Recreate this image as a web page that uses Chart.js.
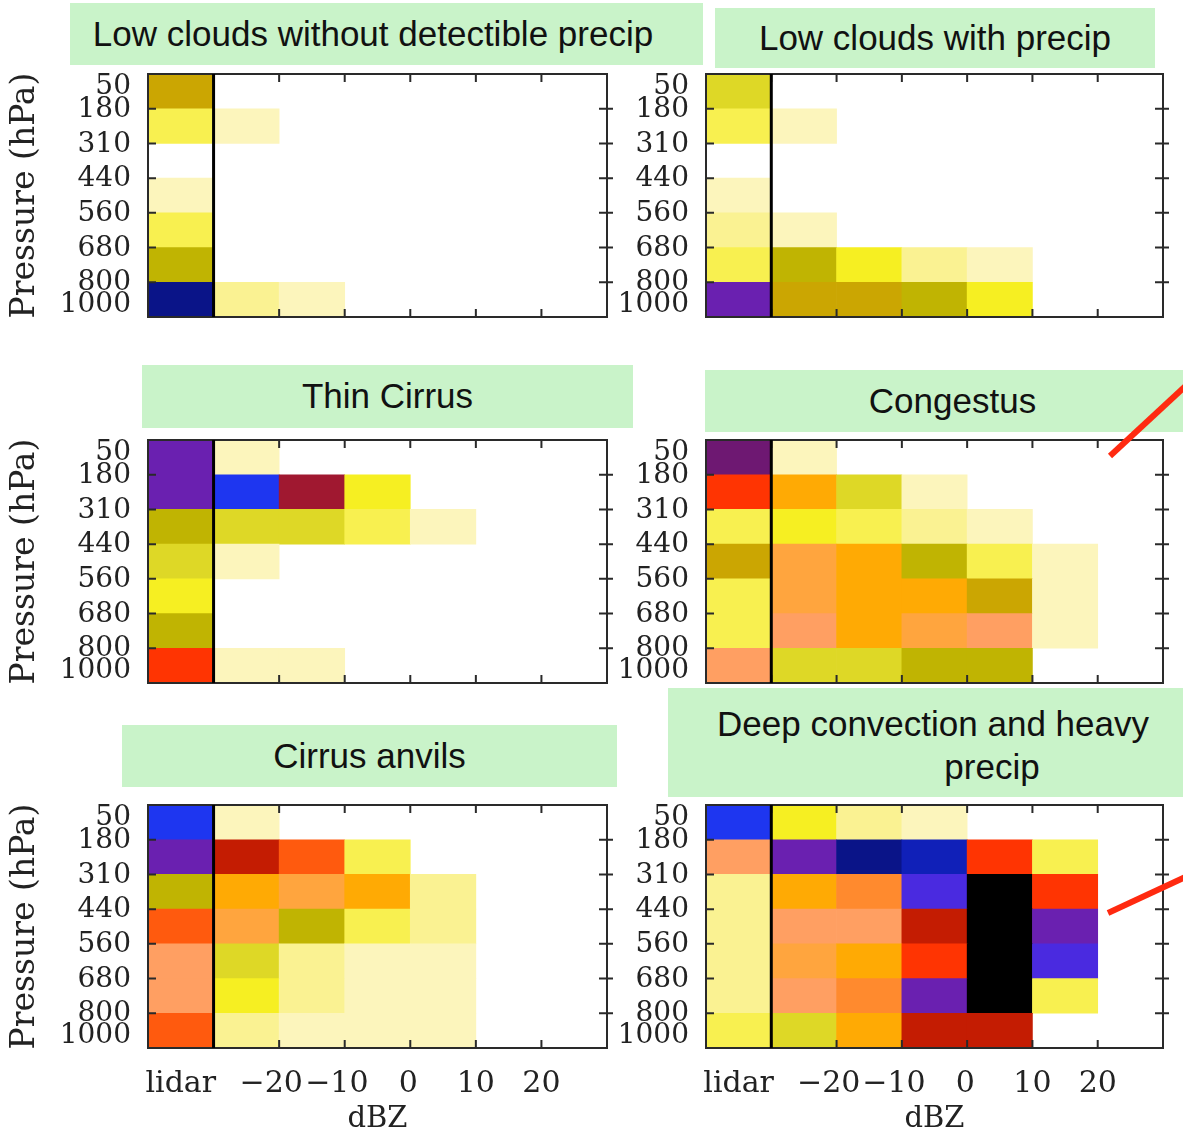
<!DOCTYPE html>
<html>
<head>
<meta charset="utf-8">
<script src="https://cdn.jsdelivr.net/npm/chart.js@4.4.1/dist/chart.umd.min.js"></script>
<style>
  body { margin: 0; background: #fff; width: 1183px; height: 1143px; position: relative; overflow: hidden; }
  .box { position: absolute; background: #c9f3c9; font-family: "Liberation Sans", Arial, sans-serif; font-size: 35px; color: #111; }
  .box span { position: absolute; white-space: nowrap; text-align: center; line-height: 40px; }
  canvas { position: absolute; }
</style>
</head>
<body>
<div class="box" style="left:70px;top:3px;width:633px;height:62px"><span style="left:0;width:606px;top:11px">Low clouds without detectible precip</span></div>
<div class="box" style="left:715px;top:8px;width:440px;height:60px"><span style="left:0;width:440px;top:10px">Low clouds with precip</span></div>
<div class="box" style="left:142px;top:365px;width:491px;height:63px"><span style="left:0;width:491px;top:11px">Thin Cirrus</span></div>
<div class="box" style="left:705px;top:370px;width:495px;height:62px"><span style="left:0;width:495px;top:11px">Congestus</span></div>
<div class="box" style="left:122px;top:725px;width:495px;height:62px"><span style="left:0;width:495px;top:11px">Cirrus anvils</span></div>
<div class="box" style="left:668px;top:688px;width:530px;height:109px"><span style="left:0;width:530px;top:16px">Deep convection and heavy</span><span style="left:224px;width:200px;top:59px">precip</span></div>

<canvas id="c1" width="620" height="260" style="left:0;top:69px"></canvas>
<canvas id="c2" width="583" height="260" style="left:600px;top:69px"></canvas>
<canvas id="c3" width="620" height="260" style="left:0;top:435px"></canvas>
<canvas id="c4" width="583" height="260" style="left:600px;top:435px"></canvas>
<canvas id="c5" width="620" height="343" style="left:0;top:800px"></canvas>
<canvas id="c6" width="583" height="343" style="left:600px;top:800px"></canvas>

<svg width="1183" height="1143" style="position:absolute;left:0;top:0;pointer-events:none">
  <line x1="1110" y1="456" x2="1192" y2="380" stroke="#ff2a10" stroke-width="6"/>
  <line x1="1108" y1="913" x2="1192" y2="874" stroke="#ff2a10" stroke-width="6"/>
</svg>

<script>
// x axis: column 0 is lidar, then 10 dBZ bins from -30 to 30
const xTickLabels = ['lidar', '\u221220', '\u221210', '0', '10', '20'];
const xTickPos = [0.5, 1.88, 2.88, 3.97, 5, 6];
// pressure bin edges (hPa), top to bottom
const pressureLabels = ['50', '180', '310', '440', '560', '680', '800', '1000'];
const pressureTickPos = [0.36, 1.03, 2.03, 3.03, 4.03, 5.03, 6, 6.66];

// colour levels (low -> high occurrence)
const palette = [
  '#ffffff', // 0 none
  '#fcf5bc', // 1 pale yellow
  '#faf292', // 2 light yellow
  '#f8f050', // 3 yellow
  '#f6ef22', // 4 bright yellow
  '#ded826', // 5 yellow green
  '#c0b402', // 6 olive
  '#cba602', // 7 gold
  '#ffaa04', // 8 orange
  '#ffa53e', // 9 light orange
  '#ff9f62', // 10 salmon
  '#ff8a2e', // 11 deep orange
  '#ff5a0e', // 12 orange red
  '#ff3402', // 13 red
  '#c41c02', // 14 dark red
  '#a01830', // 15 crimson
  '#6e1872', // 16 plum
  '#6a20b0', // 17 purple
  '#4a2ae0', // 18 violet
  '#1e36f0', // 19 blue
  '#1020b8', // 20 dark blue
  '#0a1488', // 21 navy
  '#000000'  // 22 black
];

// rows: 50-180 ... 800-1000 hPa ; cols: lidar, -30..-20, ..., 20..30 dBZ
const lowNoPrecip = [
  [7, 0, 0, 0, 0, 0, 0],
  [3, 1, 0, 0, 0, 0, 0],
  [0, 0, 0, 0, 0, 0, 0],
  [1, 0, 0, 0, 0, 0, 0],
  [3, 0, 0, 0, 0, 0, 0],
  [6, 0, 0, 0, 0, 0, 0],
  [21, 2, 1, 0, 0, 0, 0]
];
const lowPrecip = [
  [5, 0, 0, 0, 0, 0, 0],
  [3, 1, 0, 0, 0, 0, 0],
  [0, 0, 0, 0, 0, 0, 0],
  [1, 0, 0, 0, 0, 0, 0],
  [2, 1, 0, 0, 0, 0, 0],
  [3, 6, 4, 2, 1, 0, 0],
  [17, 7, 7, 6, 4, 0, 0]
];
const thinCirrus = [
  [17, 1, 0, 0, 0, 0, 0],
  [17, 19, 15, 4, 0, 0, 0],
  [6, 5, 5, 3, 1, 0, 0],
  [5, 1, 0, 0, 0, 0, 0],
  [4, 0, 0, 0, 0, 0, 0],
  [6, 0, 0, 0, 0, 0, 0],
  [13, 1, 1, 0, 0, 0, 0]
];
const congestus = [
  [16, 1, 0, 0, 0, 0, 0],
  [13, 8, 5, 1, 0, 0, 0],
  [3, 4, 3, 2, 1, 0, 0],
  [7, 9, 8, 6, 3, 1, 0],
  [3, 9, 8, 8, 7, 1, 0],
  [3, 10, 8, 9, 10, 1, 0],
  [10, 5, 5, 6, 6, 0, 0]
];
const cirrusAnvils = [
  [19, 1, 0, 0, 0, 0, 0],
  [17, 14, 12, 3, 0, 0, 0],
  [6, 8, 9, 8, 2, 0, 0],
  [12, 9, 6, 3, 2, 0, 0],
  [10, 5, 2, 1, 1, 0, 0],
  [10, 4, 2, 1, 1, 0, 0],
  [12, 2, 1, 1, 1, 0, 0]
];
const deepConvection = [
  [19, 4, 2, 1, 0, 0, 0],
  [10, 17, 21, 20, 13, 3, 0],
  [2, 8, 11, 18, 22, 13, 0],
  [2, 10, 10, 14, 22, 17, 0],
  [2, 9, 8, 13, 22, 18, 0],
  [2, 10, 11, 17, 22, 3, 0],
  [3, 5, 8, 14, 14, 0, 0]
];

const serif = '"DejaVu Serif", "Liberation Serif", serif';

// frame, inward ticks and the lidar separator
const framePlugin = {
  id: 'frame',
  afterDatasetsDraw(chart) {
    const { ctx, chartArea: a, scales: { x, y } } = chart;
    ctx.save();
    ctx.strokeStyle = '#2a2a2a';
    ctx.lineWidth = 2;
    ctx.strokeRect(a.left, a.top, a.right - a.left, a.bottom - a.top);
    ctx.beginPath();
    for (let k = 1; k < 7; k++) {
      const px = x.getPixelForValue(k);
      ctx.moveTo(px, a.top); ctx.lineTo(px, a.top + 8);
      ctx.moveTo(px, a.bottom); ctx.lineTo(px, a.bottom - 8);
      const py = y.getPixelForValue(k);
      ctx.moveTo(a.left, py); ctx.lineTo(a.left + 8, py);
      ctx.moveTo(a.right - 8, py); ctx.lineTo(a.right + 6, py);
    }
    ctx.stroke();
    const sx = x.getPixelForValue(1);
    ctx.strokeStyle = '#000';
    ctx.lineWidth = 3;
    ctx.beginPath();
    ctx.moveTo(sx, a.top); ctx.lineTo(sx, a.bottom);
    ctx.stroke();
    ctx.restore();
  }
};

function makePanel(id, grid, o) {
  const cells = [];
  const colors = [];
  grid.forEach((row, r) => {
    row.forEach((lvl, c) => {
      if (lvl > 0) {
        cells.push({ x: c + 0.5, y: [r, r + 1] });
        colors.push(palette[lvl]);
      }
    });
  });

  new Chart(document.getElementById(id), {
    type: 'bar',
    data: {
      datasets: [{
        data: cells,
        backgroundColor: colors,
        borderWidth: 0,
        grouped: false,
        barPercentage: 1,
        categoryPercentage: 1
      }]
    },
    options: {
      responsive: false,
      animation: false,
      devicePixelRatio: 1,
      layout: { padding: { top: 5, right: o.padRight, left: 0, bottom: 0 } },
      plugins: { legend: { display: false }, tooltip: { enabled: false } },
      scales: {
        x: {
          type: 'linear', min: 0, max: 7, offset: false,
          grid: { display: false, offset: false },
          border: { display: false },
          afterBuildTicks: s => { s.ticks = xTickPos.map(v => ({ value: v })); },
          afterFit: s => { s.height = o.xHeight; s.paddingLeft = 0; s.paddingRight = 0; },
          ticks: {
            display: o.showX, autoSkip: false, maxRotation: 0, padding: 10,
            color: '#222', font: { family: serif, size: 30 },
            callback: (v, i) => xTickLabels[i]
          },
          title: {
            display: o.showX, text: 'dBZ', color: '#222',
            font: { family: serif, size: 29 }, padding: { top: 0, bottom: 6 }
          }
        },
        y: {
          type: 'linear', min: 0, max: 7, reverse: true,
          grid: { display: false },
          border: { display: false },
          afterBuildTicks: s => { s.ticks = pressureTickPos.map(v => ({ value: v })); },
          afterFit: s => { s.width = o.yWidth; s.paddingTop = 0; s.paddingBottom = 0; },
          ticks: {
            autoSkip: false, padding: 9, color: '#222',
            font: { family: serif, size: 28 },
            callback: (v, i) => pressureLabels[i]
          },
          title: {
            display: o.showYTitle, text: 'Pressure (hPa)', color: '#222',
            font: { family: serif, size: 33 }, padding: { top: 6, bottom: 0 }
          }
        }
      }
    },
    plugins: [framePlugin]
  });
}

const leftOpts = { yWidth: 148, padRight: 13, showYTitle: true };
const rightOpts = { yWidth: 106, padRight: 20, showYTitle: false };

makePanel('c1', lowNoPrecip, { ...leftOpts, showX: false, xHeight: 12 });
makePanel('c2', lowPrecip, { ...rightOpts, showX: false, xHeight: 12 });
makePanel('c3', thinCirrus, { ...leftOpts, showX: false, xHeight: 12 });
makePanel('c4', congestus, { ...rightOpts, showX: false, xHeight: 12 });
makePanel('c5', cirrusAnvils, { ...leftOpts, showX: true, xHeight: 95 });
makePanel('c6', deepConvection, { ...rightOpts, showX: true, xHeight: 95 });
</script>
</body>
</html>
